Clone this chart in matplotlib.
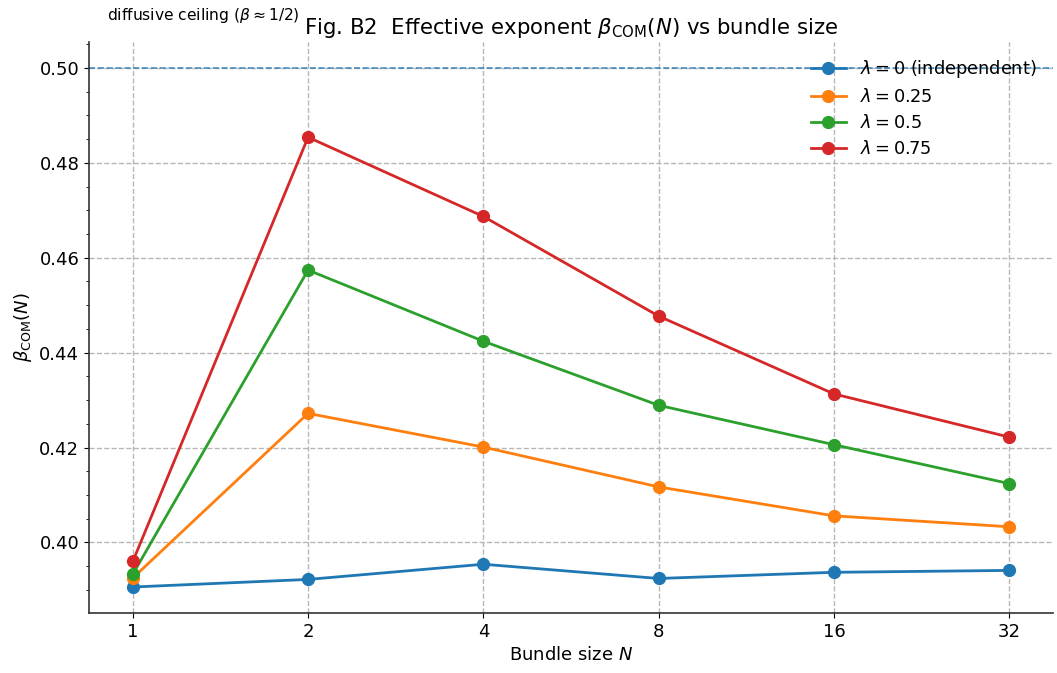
import matplotlib
matplotlib.use("Agg")
import matplotlib.pyplot as plt
from matplotlib.ticker import AutoMinorLocator, FixedLocator, FixedFormatter

# bundle sizes and effective exponents
bundle_sizes = [1, 2, 4, 8, 16, 32]
beta_lam_0 = [0.3906, 0.3922, 0.3954, 0.3924, 0.3937, 0.3941]
beta_lam_025 = [0.3925, 0.4272, 0.4201, 0.4117, 0.4056, 0.4033]
beta_lam_05 = [0.3933, 0.4574, 0.4424, 0.4289, 0.4206, 0.4124]
beta_lam_075 = [0.3960, 0.4854, 0.4687, 0.4477, 0.4313, 0.4222]

series_labels = [r"$\lambda = 0$ (independent)", r"$\lambda = 0.25$",
                 r"$\lambda = 0.5$", r"$\lambda = 0.75$"]
ceiling = 0.5

fig = plt.figure(figsize=(10.57, 6.73), dpi=100)
ax = fig.add_axes([0.0842, 0.0892, 0.912, 0.8484])

for vals, lab in zip([beta_lam_0, beta_lam_025, beta_lam_05, beta_lam_075], series_labels):
    ax.plot(bundle_sizes, vals, marker="o", markersize=8.5, linewidth=2, label=lab)

ax.axhline(ceiling, color="C0", linestyle="--", linewidth=1.2, alpha=0.8)
ax.text(0.019, 1.03, r"diffusive ceiling ($\beta \approx 1/2$)", transform=ax.transAxes,
        fontsize=11.2, ha="left", va="bottom")

ax.set_xscale("log", base=2)
ax.xaxis.set_major_locator(FixedLocator(bundle_sizes))
ax.xaxis.set_major_formatter(FixedFormatter([str(n) for n in bundle_sizes]))
ax.xaxis.set_minor_locator(FixedLocator([]))
ax.yaxis.set_minor_locator(AutoMinorLocator(4))

ax.set_xlabel(r"Bundle size $N$", fontsize=13)
ax.set_ylabel(r"$\beta_{\mathrm{COM}}(N)$", fontsize=13)
ax.set_title(r"Fig. B2  Effective exponent $\beta_{\mathrm{COM}}(N)$ vs bundle size", fontsize=15.3)
ax.tick_params(axis="both", labelsize=13)

ax.grid(True, linestyle="--", color="#b0b0b0", linewidth=1.0, alpha=0.9)
for sp in ("top", "right"):
    ax.spines[sp].set_visible(False)
for sp in ("left", "bottom"):
    ax.spines[sp].set_color("#333333")
    ax.spines[sp].set_linewidth(1.2)

ax.legend(loc="upper right", frameon=False, fontsize=12.8, labelspacing=0.45)

fig.savefig("out.png", dpi=100)
